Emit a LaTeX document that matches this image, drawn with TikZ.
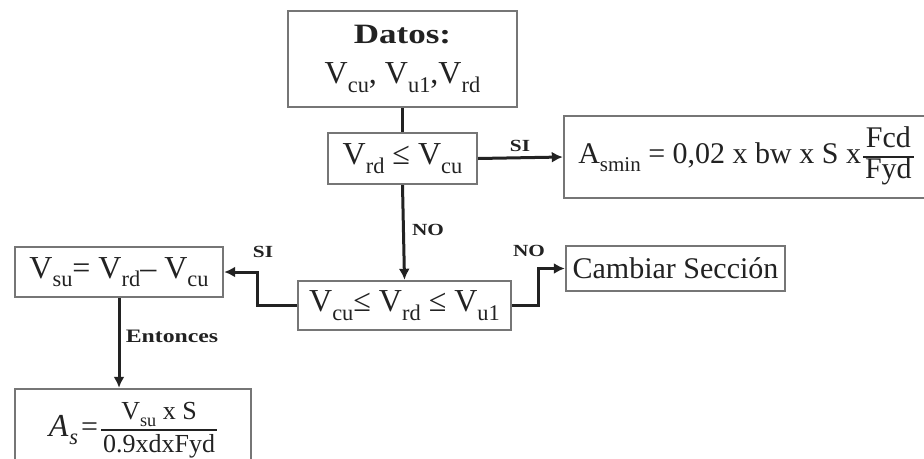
\documentclass[tikz,border=0pt]{standalone}
\usepackage{fontspec}
\usepackage{graphicx}
\setmainfont{Liberation Serif}
\newfontfamily\lblfont[FakeStretch=1.25]{Liberation Serif}
\usetikzlibrary{arrows.meta}
\definecolor{boxgray}{HTML}{767676}
\definecolor{inkc}{HTML}{222222}
% lowered, reduced subscript in text
\newcommand\sbs[1]{\raisebox{-0.26em}{\scalebox{0.7}{#1}}}
% stacked fraction built from a one-column table
\newcommand\frc[3][0.85]{\ensuremath{\vcenter{\hbox{\setlength\arrayrulewidth{1.4pt}\renewcommand\arraystretch{#1}\begin{tabular}{@{\kern2pt}c@{\kern2pt}}#2\\\hline #3\end{tabular}}}}}
\begin{document}
\begin{tikzpicture}[x=1pt,y=-1pt,
  box/.style={draw=boxgray,line width=2.4pt,fill=white,inner sep=0pt,text=inkc,align=center},
  conn/.style={draw=inkc,line width=3pt},
  arr/.style={conn,-{Latex[length=11pt,width=11pt]}},
  lbl/.style={text=inkc,inner sep=0pt,font=\lblfont\bfseries\fontsize{17}{17}\selectfont}]
\useasboundingbox (0,0) rectangle (924,458);
\clip (0,0) rectangle (924,458);
\fill[white] (0,0) rectangle (924,458);

% boxes
\node[box,minimum width=229pt,minimum height=96pt,font=\fontsize{32}{40}\selectfont] (datos) at (402.5,59)
  {{\lblfont\bfseries\fontsize{28}{28}\selectfont Datos:}\\V\sbs{cu}, V\sbs{u1},V\sbs{rd}};
\node[box,minimum width=149pt,minimum height=51pt,font=\fontsize{32}{36}\selectfont] (cond1) at (402.5,158.5)
  {V\sbs{rd} ≤ V\sbs{cu}};
\node[box,minimum width=364pt,minimum height=82pt,font=\fontsize{30}{35}\selectfont] (asmin) at (746,157)
  {A\sbs{smin} = 0,02 x bw x S x\kern2pt\frc{Fcd}{Fyd}};
\node[box,minimum width=213pt,minimum height=49pt,font=\fontsize{32}{36}\selectfont] (cond2) at (404.5,305.5)
  {V\sbs{cu}≤ V\sbs{rd} ≤ V\sbs{u1}};
\node[box,minimum width=219pt,minimum height=45pt,font=\fontsize{30}{34}\selectfont] (cambiar) at (675.5,268.5)
  {Cambiar Sección};
\node[box,minimum width=208pt,minimum height=50pt,font=\fontsize{32}{36}\selectfont] (vsu) at (119,272)
  {V\sbs{su}= V\sbs{rd}– V\sbs{cu}};
\node[box,minimum width=236pt,minimum height=82pt,font=\fontsize{26}{30}\selectfont] (as) at (133,430)
  {{\fontsize{32}{32}\selectfont\itshape A\kern1pt\sbs{s}\kern3pt}{\fontsize{30}{30}\selectfont =}\kern3pt\frc[1.05]{V\sbs{su} x S}{0.9xdxFyd}};

% connectors
\draw[conn] (datos.south) -- (cond1.north);
\draw[arr] (cond1.east) -- (asmin.west);
\draw[arr] (cond1.south) -- (cond2.north);
\draw[arr] (cond2.west) -- ++(-39,0) |- (vsu.east);
\draw[arr] (cond2.east) -- ++(26,0) |- (cambiar.west);
\draw[arr] (vsu.south) -- (vsu.south |- as.north);

% connector labels
\node[lbl] (si1) at (520,146) {SI};
\node[lbl] (no1) at (428,230) {NO};
\node[lbl] (si2) at (263,252) {SI};
\node[lbl] (no2) at (529,251) {NO};
\node[lbl,font=\lblfont\bfseries\fontsize{19}{19}\selectfont] (ent) at (172,336) {Entonces};
\end{tikzpicture}
\end{document}
